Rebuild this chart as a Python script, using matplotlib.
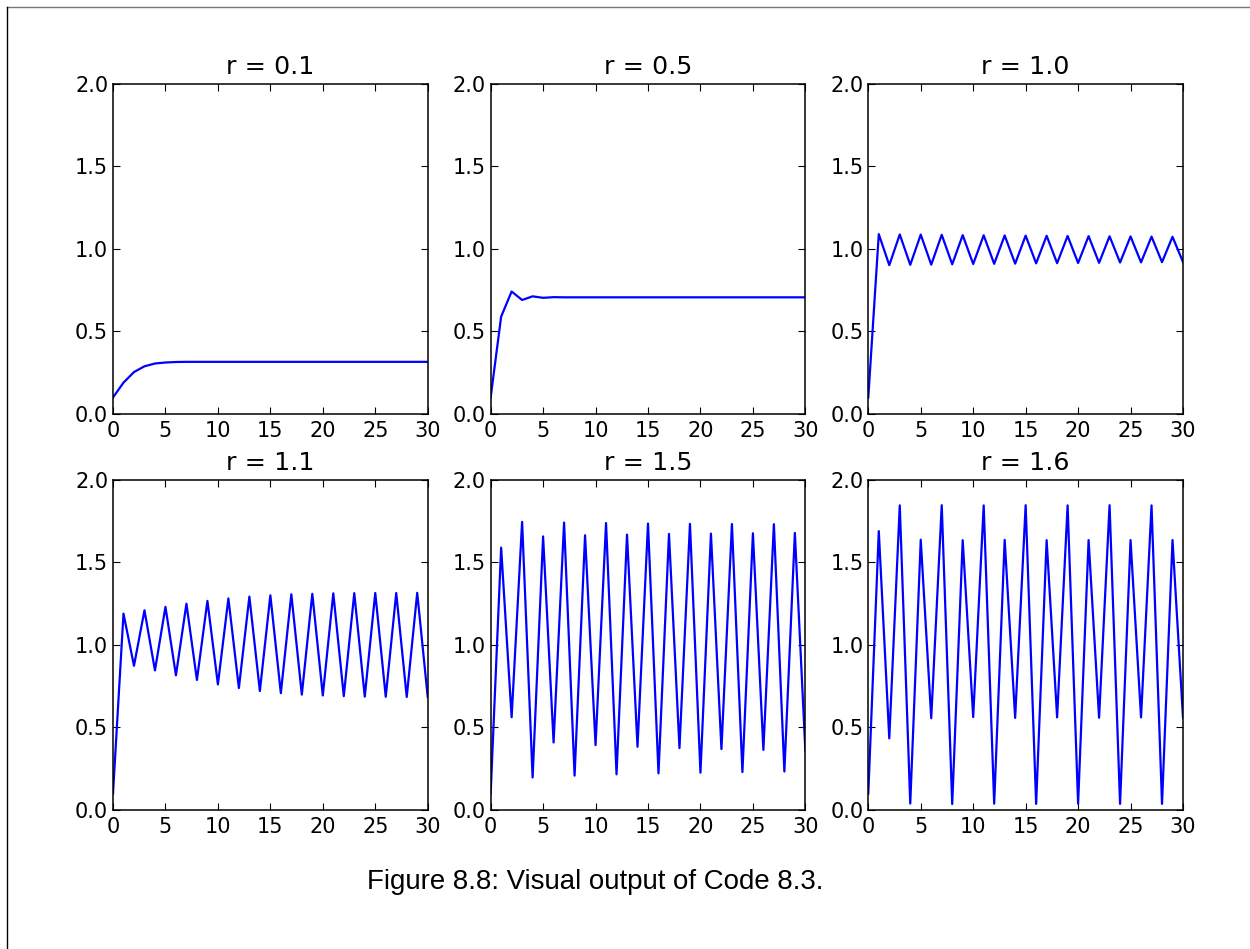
import numpy as np
import matplotlib
matplotlib.use("Agg")
import matplotlib.pyplot as plt
from matplotlib.lines import Line2D

steps = list(range(31))
r_values = [0.1, 0.5, 1.0, 1.1, 1.5, 1.6]

x_r01 = [0.100, 0.190, 0.254, 0.289, 0.306, 0.312, 0.315, 0.316, 0.316, 0.316,
         0.316, 0.316, 0.316, 0.316, 0.316, 0.316, 0.316, 0.316, 0.316, 0.316,
         0.316, 0.316, 0.316, 0.316, 0.316, 0.316, 0.316, 0.316, 0.316, 0.316, 0.316]
x_r05 = [0.100, 0.590, 0.742, 0.691, 0.713, 0.704, 0.708, 0.707, 0.707, 0.707,
         0.707, 0.707, 0.707, 0.707, 0.707, 0.707, 0.707, 0.707, 0.707, 0.707,
         0.707, 0.707, 0.707, 0.707, 0.707, 0.707, 0.707, 0.707, 0.707, 0.707, 0.707]
x_r10 = [0.100, 1.090, 0.902, 1.088, 0.904, 1.087, 0.905, 1.086, 0.907, 1.084,
         0.909, 1.083, 0.910, 1.082, 0.911, 1.081, 0.913, 1.080, 0.914, 1.079,
         0.915, 1.078, 0.916, 1.077, 0.918, 1.076, 0.919, 1.075, 0.920, 1.074, 0.921]
x_r11 = [0.100, 1.190, 0.874, 1.210, 0.846, 1.231, 0.816, 1.250, 0.788, 1.267,
         0.761, 1.282, 0.739, 1.293, 0.721, 1.301, 0.708, 1.307, 0.699, 1.310,
         0.694, 1.313, 0.690, 1.314, 0.687, 1.315, 0.686, 1.315, 0.685, 1.316, 0.685]
x_r15 = [0.100, 1.590, 0.562, 1.746, 0.197, 1.658, 0.409, 1.742, 0.208, 1.665,
         0.393, 1.739, 0.216, 1.669, 0.383, 1.736, 0.222, 1.673, 0.375, 1.734,
         0.226, 1.675, 0.369, 1.733, 0.230, 1.677, 0.364, 1.732, 0.233, 1.679, 0.361]
x_r16 = [0.100, 1.690, 0.434, 1.846, 0.039, 1.638, 0.556, 1.847, 0.036, 1.635,
         0.563, 1.846, 0.038, 1.637, 0.558, 1.847, 0.037, 1.635, 0.561, 1.846,
         0.038, 1.636, 0.559, 1.847, 0.037, 1.636, 0.561, 1.846, 0.037, 1.636, 0.560]

series = [x_r01, x_r05, x_r10, x_r11, x_r15, x_r16]

fig, axes = plt.subplots(2, 3, figsize=(12.5, 9.49), dpi=100)
fig.subplots_adjust(left=0.0904, right=0.9464, top=0.9115, bottom=0.1465,
                    wspace=0.2, hspace=0.2)

for ax, r, xs in zip(axes.flat, r_values, series):
    ax.plot(steps, xs, color="b", lw=1.6)
    ax.set_xlim(0, 30)
    ax.set_ylim(0, 2)
    ax.set_xticks([0, 5, 10, 15, 20, 25, 30])
    ax.set_yticks([0.0, 0.5, 1.0, 1.5, 2.0])
    ax.set_yticklabels(["0.0", "0.5", "1.0", "1.5", "2.0"])
    ax.tick_params(direction="in", top=True, right=True, length=5, width=0.8,
                   labelsize=15)
    ax.tick_params(axis="x", pad=5)
    ax.tick_params(axis="y", pad=3.5)
    for sp in ax.spines.values():
        sp.set_linewidth(1.1)
    ax.set_title(f"r = {r}", fontsize=18.3, pad=7.2)

# page border of the scanned figure
fig.add_artist(Line2D([7 / 1250, 1], [1 - 7 / 949, 1 - 7 / 949],
                      transform=fig.transFigure, color="#777777", lw=1))
fig.add_artist(Line2D([7 / 1250, 7 / 1250], [0, 1 - 7 / 949],
                      transform=fig.transFigure, color="black", lw=1))

fig.text(0.476, 0.0706, "Figure 8.8: Visual output of Code 8.3.",
         ha="center", va="center", fontsize=19.9, family="Liberation Sans")

fig.savefig("out.png", dpi=100)
